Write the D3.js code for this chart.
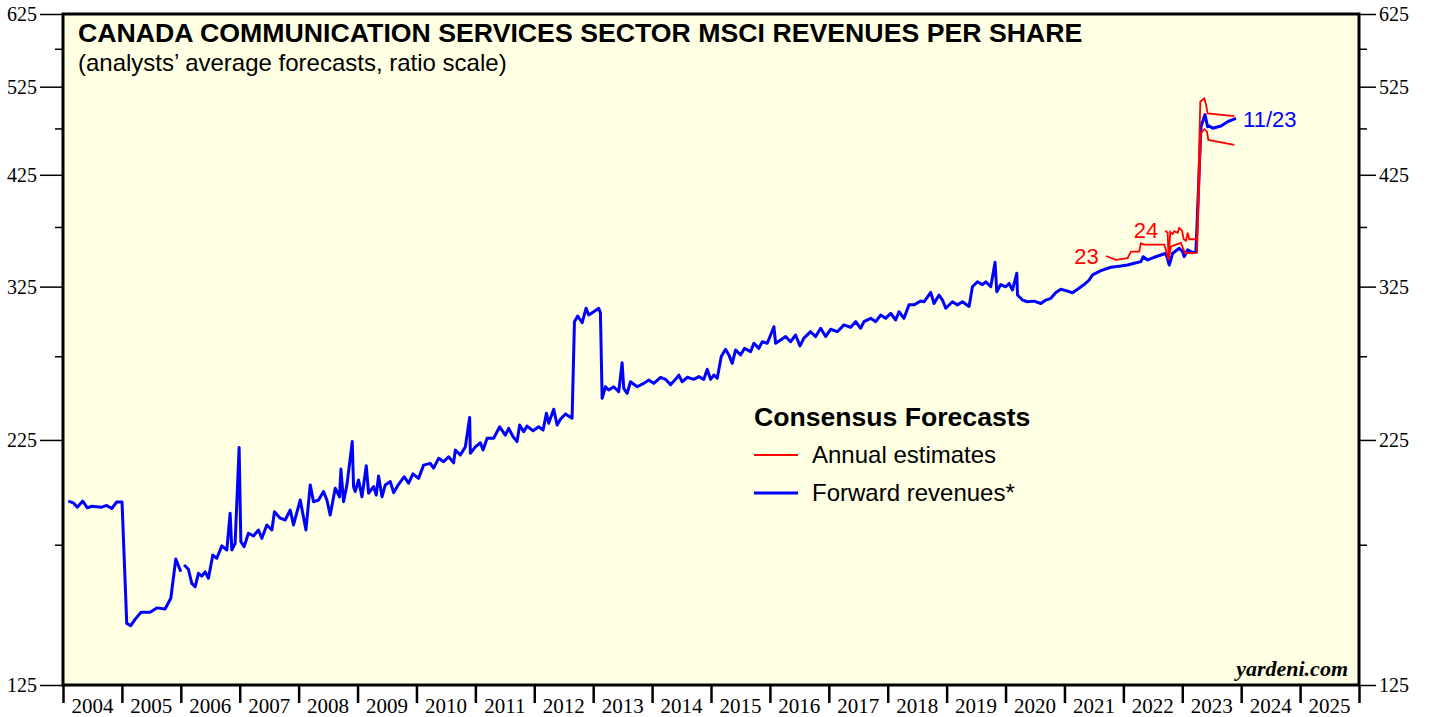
<!DOCTYPE html>
<html>
<head>
<meta charset="utf-8">
<script src="https://cdn.jsdelivr.net/npm/d3@7"></script>
<style>
  body { margin: 0; background: #fff; }
  svg { display: block; }
</style>
</head>
<body>
<div id="chart"></div>
<script>
// year labels along the bottom, y ticks (ratio scale)
var yearLabels = d3.range(2004, 2026);
var yearBounds = d3.range(2004, 2027);
var majorTicks = [125, 225, 325, 425, 525, 625];
var minorTicks = [175, 275, 375, 475, 575];

// forward revenues per share (weekly) [year, value]
var forwardRevenues = [
  [2004.09,194.3],[2004.175,193.5],[2004.243,191.5],[2004.335,194.3],[2004.413,191.2],[2004.488,191.9],
  [2004.657,191.5],[2004.742,192.3],[2004.827,190.9],[2004.912,193.9],[2005.002,193.9],
  [2005.082,144.9],[2005.150,144.1],[2005.223,146.3],[2005.325,148.8],[2005.478,148.8],[2005.592,150.4],
  [2005.733,150.0],[2005.830,153.9],[2005.915,169.1],[2006.000,164.0],
  [2006.028,null],
  [2006.056,166.7],[2006.129,165.0],[2006.186,159.5],[2006.243,158.2],[2006.299,163.4],[2006.356,162.3],
  [2006.412,164.0],[2006.469,161.5],[2006.543,170.7],[2006.611,169.4],[2006.696,174.5],[2006.781,172.8],
  [2006.837,188.7],[2006.866,172.8],[2006.922,175.6],[2006.990,221.0],[2007.019,176.3],[2007.075,174.2],
  [2007.148,179.9],[2007.233,178.7],[2007.318,181.3],[2007.376,177.7],[2007.460,183.5],[2007.546,181.3],
  [2007.590,189.4],[2007.687,186.5],[2007.772,185.7],[2007.857,190.2],[2007.913,183.5],
  [2008.027,194.8],[2008.124,181.3],[2008.197,202.0],[2008.253,194.0],[2008.338,194.8],[2008.422,198.8],
  [2008.480,194.8],[2008.536,187.9],[2008.621,200.4],[2008.694,196.3],[2008.718,209.8],[2008.762,194.0],
  [2008.820,202.0],[2008.910,224.1],[2008.932,201.2],[2008.960,198.8],[2009.017,204.4],
  [2009.075,196.3],[2009.148,211.5],[2009.187,198.0],[2009.272,201.2],[2009.318,197.1],[2009.357,206.4],
  [2009.415,196.3],[2009.471,202.0],[2009.556,203.6],[2009.612,198.3],[2009.697,202.3],[2009.793,206.0],
  [2009.866,202.8],[2009.941,207.4],[2010.036,205.2],[2010.121,211.8],[2010.235,212.7],[2010.291,210.3],
  [2010.376,215.3],[2010.461,213.5],[2010.546,216.1],[2010.631,213.0],[2010.660,219.6],[2010.745,217.0],
  [2010.830,221.3],[2010.903,237.5],[2010.915,217.9],[2011.000,221.3],[2011.085,223.5],[2011.131,219.6],
  [2011.199,225.9],[2011.311,225.9],[2011.413,232.2],[2011.509,227.6],[2011.566,231.3],[2011.641,226.7],
  [2011.708,224.1],[2011.752,233.2],[2011.820,229.5],[2011.878,232.6],[2011.980,230.0],[2012.075,232.2],
  [2012.150,230.4],[2012.206,239.9],[2012.245,234.2],[2012.330,242.2],[2012.388,233.2],[2012.444,236.4],
  [2012.529,239.5],[2012.642,237.0],
  [2012.682,298.8],[2012.737,302.9],[2012.812,298.0],[2012.880,308.6],[2012.924,303.6],[2013.009,306.0],
  [2013.094,308.6],[2013.123,305.0],
  [2013.152,248.6],[2013.208,255.6],[2013.264,253.6],[2013.349,255.6],[2013.434,252.6],[2013.491,270.8],
  [2013.519,254.6],[2013.577,251.6],[2013.633,258.7],[2013.747,255.6],[2013.859,257.7],[2013.944,259.8],
  [2014.029,257.7],[2014.143,261.5],[2014.228,260.2],[2014.313,256.8],[2014.398,260.2],[2014.454,262.9],
  [2014.510,258.7],[2014.596,261.5],[2014.708,260.2],[2014.793,261.9],[2014.878,260.2],[2014.936,266.6],
  [2014.992,260.2],[2015.048,262.9],[2015.106,260.9],[2015.174,274.8],[2015.247,279.7],[2015.303,275.9],
  [2015.361,270.4],[2015.417,279.2],[2015.502,275.9],[2015.570,280.3],[2015.672,278.1],[2015.728,283.7],
  [2015.813,280.3],[2015.871,284.8],[2015.955,283.7],[2016.012,289.4],[2016.068,295.2],[2016.097,283.7],
  [2016.182,286.0],[2016.267,288.3],[2016.352,284.8],[2016.436,289.4],[2016.510,281.9],[2016.577,287.2],
  [2016.691,291.7],[2016.776,288.3],[2016.861,294.1],[2016.946,288.3],[2017.031,293.4],[2017.144,291.7],
  [2017.257,296.5],[2017.371,294.8],[2017.456,298.8],[2017.540,294.1],[2017.597,298.8],[2017.711,301.2],
  [2017.796,298.8],[2017.880,303.6],[2017.965,301.2],[2018.050,304.9],[2018.135,300.0],[2018.191,306.0],
  [2018.276,301.2],[2018.361,311.1],[2018.446,311.1],[2018.560,314.0],[2018.616,313.4],[2018.730,320.5],
  [2018.786,312.1],[2018.871,318.5],[2018.929,314.7],[2018.985,308.6],[2019.098,313.4],[2019.183,311.1],
  [2019.268,313.4],[2019.381,309.9],[2019.438,324.9],[2019.523,328.8],[2019.608,326.6],[2019.664,328.8],
  [2019.749,324.9],[2019.822,344.6],[2019.851,321.1],[2019.919,326.6],[2020.004,324.9],[2020.060,327.5],
  [2020.118,322.4],[2020.191,335.6],[2020.203,318.5],[2020.288,314.7],[2020.373,313.4],[2020.485,313.9],
  [2020.599,312.1],[2020.684,314.7],[2020.769,316.0],[2020.854,320.5],[2020.939,323.0],[2021.024,321.9],
  [2021.137,320.3],[2021.222,323.0],[2021.334,326.6],[2021.419,330.2],[2021.477,334.3],[2021.618,337.7],
  [2021.788,340.5],[2021.958,341.5],[2022.072,342.3],[2022.184,343.7],[2022.298,345.1],[2022.337,349.2],
  [2022.412,346.5],[2022.524,348.7],[2022.638,350.6],[2022.723,352.1],[2022.779,342.3],[2022.837,352.1],
  [2022.949,356.3],[2023.006,353.4],[2023.033,349.2],[2023.091,354.9],[2023.176,352.6],[2023.232,353.4],
  [2023.317,477.0],[2023.385,491.0],[2023.430,477.0],[2023.458,477.8],[2023.515,475.2],[2023.657,477.8],
  [2023.771,482.7],[2023.912,486.6]
];

// annual consensus estimates for 2023 and 2024 [year, value]
var estimate2023 = [
  [2021.703,349.8],[2021.873,346.5],[2022.072,347.9],[2022.128,353.4],[2022.269,353.4],[2022.298,360.6],
  [2022.354,359.5],[2022.694,359.5],[2022.723,354.9],[2022.769,346.5],[2022.808,358.0],[2022.893,359.5],
  [2022.978,360.9],[2023.024,354.9],[2023.046,352.1],[2023.250,352.6],
  [2023.317,469.6],[2023.374,474.1],[2023.420,471.3],[2023.442,462.0],[2023.884,456.5]
];
var estimate2024 = [
  [2022.711,371.7],[2022.752,369.8],[2022.769,346.5],[2022.796,370.5],[2022.837,368.6],[2022.864,371.3],
  [2022.922,369.8],[2022.949,374.2],[2022.995,371.7],[2023.024,364.1],[2023.063,362.8],[2023.092,369.8],
  [2023.119,364.1],[2023.250,364.1],
  [2023.306,506.4],[2023.374,510.6],[2023.403,503.1],[2023.430,492.5],[2023.884,489.2]
];

var width = 1429, height = 717;
var plotLeft = 63, plotRight = 1359, plotTop = 14, plotBottom = 685;
var sans = "'Liberation Sans', Arial, sans-serif";
var serif = "'Liberation Serif', 'Times New Roman', serif";

var x = d3.scaleLinear().domain([2004, 2026]).range([plotLeft, plotRight]);
var y = d3.scaleLog().domain([125, 625]).range([plotBottom, plotTop]);

var svg = d3.select("#chart").append("svg")
  .attr("width", width)
  .attr("height", height);

svg.append("rect")
  .attr("x", plotLeft).attr("y", plotTop)
  .attr("width", plotRight - plotLeft).attr("height", plotBottom - plotTop)
  .attr("fill", "#ffffe3");

// left / right axes
function yAxis(axisFn, xpos, ticks, size, labels) {
  var g = svg.append("g")
    .attr("transform", "translate(" + xpos + ",0)")
    .call(axisFn(y).tickValues(ticks).tickSize(size).tickPadding(3)
      .tickFormat(labels ? d3.format("d") : ""));
  g.select(".domain").remove();
  g.selectAll("line").attr("stroke", "#000").attr("stroke-width", 1.5);
  g.selectAll("text").attr("font-family", serif).attr("font-size", 20).attr("fill", "#000");
}
yAxis(d3.axisLeft, plotLeft, majorTicks, 23, true);
yAxis(d3.axisLeft, plotLeft, minorTicks, 8, false);
yAxis(d3.axisRight, plotRight, majorTicks, 17, true);
yAxis(d3.axisRight, plotRight, minorTicks, 8, false);

// bottom axis: year boundaries with labels centred in each year
var xAxis = svg.append("g")
  .attr("transform", "translate(0," + plotBottom + ")")
  .call(d3.axisBottom(x).tickValues(yearBounds).tickSize(18).tickFormat(""));
xAxis.select(".domain").remove();
xAxis.selectAll("line").attr("stroke", "#000").attr("stroke-width", 2.5);

svg.append("g").selectAll("text")
  .data(yearLabels).enter()
  .append("text")
  .attr("x", function(d) { return x(d + 0.5); })
  .attr("y", 713)
  .attr("text-anchor", "middle")
  .attr("font-family", serif)
  .attr("font-size", 21)
  .text(function(d) { return d; });

// lines
var line = d3.line()
  .defined(function(d) { return d[1] != null; })
  .x(function(d) { return x(d[0]); })
  .y(function(d) { return y(d[1]); });

svg.append("path")
  .datum(forwardRevenues)
  .attr("d", line)
  .attr("fill", "none")
  .attr("stroke", "#0000ff")
  .attr("stroke-width", 3)
  .attr("stroke-linejoin", "round");

[estimate2023, estimate2024].forEach(function(s) {
  svg.append("path")
    .datum(s)
    .attr("d", line)
    .attr("fill", "none")
    .attr("stroke", "#ff0000")
    .attr("stroke-width", 1.8);
});

// frame
svg.append("rect")
  .attr("x", plotLeft).attr("y", plotTop)
  .attr("width", plotRight - plotLeft).attr("height", plotBottom - plotTop)
  .attr("fill", "none")
  .attr("stroke", "#000")
  .attr("stroke-width", 3);

// titles
svg.append("text")
  .attr("x", 78).attr("y", 42)
  .attr("font-family", sans).attr("font-weight", "bold").attr("font-size", 26.7)
  .text("CANADA COMMUNICATION SERVICES SECTOR MSCI REVENUES PER SHARE");
svg.append("text")
  .attr("x", 78).attr("y", 71)
  .attr("font-family", sans).attr("font-size", 24)
  .text("(analysts\u2019 average forecasts, ratio scale)");

// line labels
function label(txt, xv, yv, color, anchor) {
  svg.append("text")
    .attr("x", x(xv)).attr("y", y(yv))
    .attr("dy", "0.35em")
    .attr("text-anchor", anchor)
    .attr("font-family", sans).attr("font-size", 22)
    .attr("fill", color)
    .text(txt);
}
label("23", estimate2023[0][0] - 0.12, estimate2023[0][1], "#ff0000", "end");
label("24", estimate2024[0][0] - 0.12, estimate2024[0][1], "#ff0000", "end");
label("11/23", forwardRevenues[forwardRevenues.length - 1][0] + 0.12,
  forwardRevenues[forwardRevenues.length - 1][1] * 0.997, "#0000ff", "start");

// legend
var legend = svg.append("g").attr("transform", "translate(754,0)");
legend.append("text")
  .attr("x", 0).attr("y", 426)
  .attr("font-family", sans).attr("font-weight", "bold").attr("font-size", 26.6)
  .text("Consensus Forecasts");
legend.append("line")
  .attr("x1", 0).attr("x2", 44).attr("y1", 455).attr("y2", 455)
  .attr("stroke", "#ff0000").attr("stroke-width", 1.8);
legend.append("text")
  .attr("x", 58).attr("y", 463)
  .attr("font-family", sans).attr("font-size", 24)
  .text("Annual estimates");
legend.append("line")
  .attr("x1", 0).attr("x2", 44).attr("y1", 493).attr("y2", 493)
  .attr("stroke", "#0000ff").attr("stroke-width", 3);
legend.append("text")
  .attr("x", 58).attr("y", 501)
  .attr("font-family", sans).attr("font-size", 24)
  .text("Forward revenues*");

svg.append("text")
  .attr("x", 1348).attr("y", 676)
  .attr("text-anchor", "end")
  .attr("font-family", serif).attr("font-weight", "bold").attr("font-style", "italic")
  .attr("font-size", 22)
  .text("yardeni.com");
</script>
</body>
</html>
